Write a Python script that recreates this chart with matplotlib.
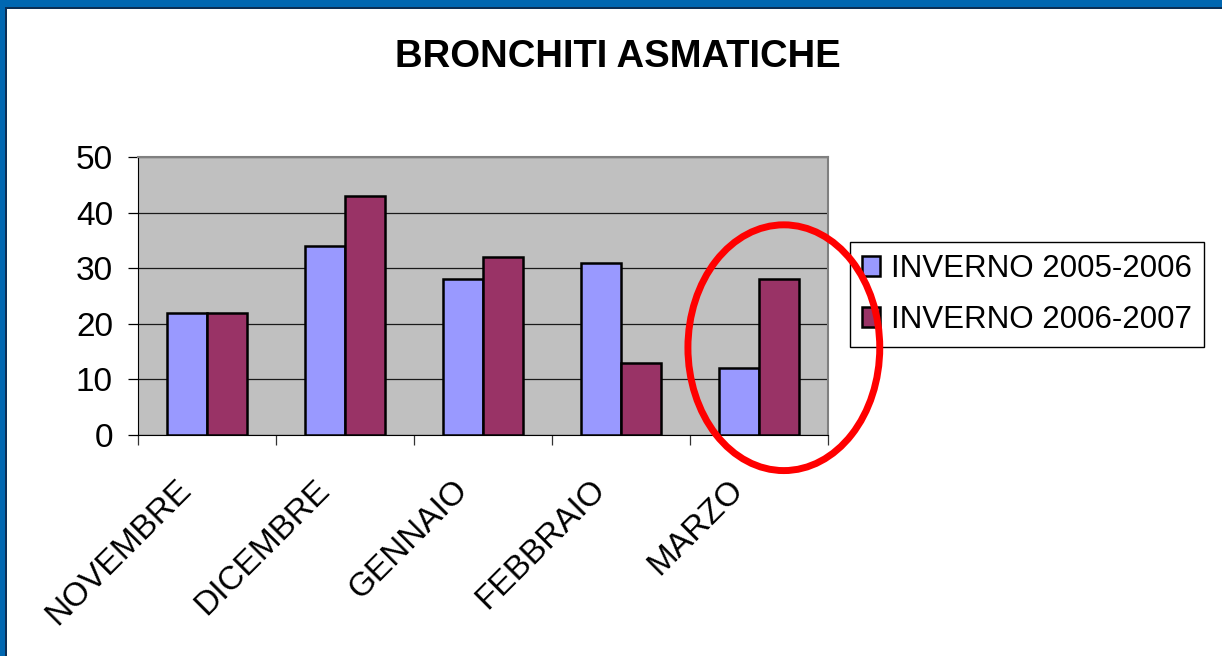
import matplotlib
matplotlib.use("Agg")
import matplotlib.pyplot as plt
import matplotlib.transforms as mtransforms
from matplotlib.patches import Ellipse, Rectangle
import numpy as np

plt.rcParams['font.family'] = ['Liberation Sans', 'DejaVu Sans']

# data
months = ['NOVEMBRE', 'DICEMBRE', 'GENNAIO', 'FEBBRAIO', 'MARZO']
winter_0506 = [22, 34, 28, 31, 12]
winter_0607 = [22, 43, 32, 13, 28]
series_names = ['INVERNO 2005-2006', 'INVERNO 2006-2007']
y_ticks = [0, 10, 20, 30, 40, 50]

W, H = 1222, 656
fig = plt.figure(figsize=(W / 100, H / 100), dpi=100)
fig.patch.set_facecolor('white')

# blue slide frame (top and left)
fig.patches.append(Rectangle((0, 1 - 7 / H), 1, 7 / H, transform=fig.transFigure,
                             facecolor='#0067B1', edgecolor='none', zorder=0))
fig.patches.append(Rectangle((0, 1 - 9 / H), 1, 2 / H, transform=fig.transFigure,
                             facecolor='#0B2F55', edgecolor='none', zorder=0))
fig.patches.append(Rectangle((0, 0), 5 / W, 1, transform=fig.transFigure,
                             facecolor='#0067B1', edgecolor='none', zorder=0))
fig.patches.append(Rectangle((5 / W, 0), 1.5 / W, 1 - 7 / H, transform=fig.transFigure,
                             facecolor='#0B2F55', edgecolor='none', zorder=0))

ax = fig.add_axes((138 / W, 1 - 435 / H, 690 / W, 278 / H))
ax.set_facecolor('#C0C0C0')

x = np.arange(len(months))
bw = 0.29
ax.bar(x - bw / 2, winter_0506, bw, color='#9999FF', edgecolor='black', linewidth=1.8,
       label=series_names[0], zorder=3)
ax.bar(x + bw / 2, winter_0607, bw, color='#993366', edgecolor='black', linewidth=1.8,
       label=series_names[1], zorder=3)

ax.set_xlim(-0.5, len(months) - 0.5)
ax.set_ylim(0, 50)
ax.set_yticks(y_ticks)
ax.yaxis.grid(True, color='#1a1a1a', linewidth=0.9, zorder=1)
ax.set_axisbelow(True)
ax.tick_params(axis='y', direction='out', length=7, width=0.9, pad=11, labelsize=24)

# ticks at category boundaries, labels drawn separately
ax.set_xticks(np.arange(len(months) + 1) - 0.5)
ax.set_xticklabels([])
ax.tick_params(axis='x', direction='out', length=7, width=0.9, color='#333333')

for side in ['top', 'right']:
    ax.spines[side].set_color('#808080')
    ax.spines[side].set_linewidth(1.5)
ax.spines['left'].set_color('black')
ax.spines['bottom'].set_color('black')

lbl_tr = mtransforms.blended_transform_factory(ax.transData, ax.transAxes)
lbl_tr = lbl_tr + mtransforms.ScaledTranslation(-14.5 / 72, -36 / 72, fig.dpi_scale_trans)
for i, m in enumerate(months):
    ax.text(x[i], 0, m, transform=lbl_tr, rotation=45, rotation_mode='anchor',
            ha='right', va='center', fontsize=24)

fig.text(618 / W, 1 - 67 / H, 'BRONCHITI ASMATICHE', ha='center', va='baseline',
         fontsize=27.5, fontweight='bold')

leg = fig.legend(loc='upper left', bbox_to_anchor=(850 / W, 1 - 242 / H), fontsize=22.5,
                 frameon=True, fancybox=False, shadow=False, edgecolor='black',
                 framealpha=1, borderpad=0.38, handlelength=0.58, handleheight=0.6,
                 handletextpad=0.35, labelspacing=0.67, borderaxespad=0)
leg.get_frame().set_linewidth(1.0)

# red circle highlighting MARZO, on top of everything (also the legend)
ring = Ellipse((x[4] + 0.18, 15.7), 1.39, 44.2, fill=False, edgecolor='#FF0000',
               linewidth=5, transform=ax.transData, clip_on=False, zorder=10)
fig.add_artist(ring)

fig.savefig('out.png', dpi=100)
